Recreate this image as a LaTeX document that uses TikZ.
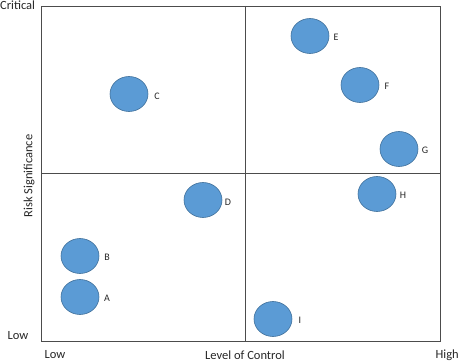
\documentclass[tikz,border=0pt]{standalone}
\usepackage{fontspec}
\setmainfont{Carlito}
\usetikzlibrary{shapes.geometric}
\begin{document}
\begin{tikzpicture}[x=1pt,y=-1pt,
  dot/.style={ellipse,fill={rgb,255:red,91;green,155;blue,213},draw={rgb,255:red,65;green,113;blue,156},line width=0.6pt,minimum width=38pt,minimum height=35pt,inner sep=0pt},
  lab/.style={font=\fontsize{10}{11}\selectfont,text=black!85},
  axis/.style={font=\fontsize{12.5}{14}\selectfont,text=black!85,inner sep=0pt},
  frame/.style={draw=black!70,line width=0.9pt}]
\useasboundingbox (0,0) rectangle (459,361);
\coordinate (tl) at (41,6);
\coordinate (br) at (440,341);
\coordinate (mt) at (245,6);
\coordinate (mb) at (245,341);
\coordinate (ml) at (41,173);
\coordinate (mr) at (440,173);
\draw[frame] (tl) rectangle (br);
\draw[frame] (mt) -- (mb);
\draw[frame] (ml) -- (mr);
\node[axis,anchor=west] (crit) at (0,5) {Critical};
\node[axis] (lowy) at (18,336) {Low};
\node[axis] (lowx) at (55,355) {Low};
\node[axis] (loc) at (245,355) {Level of Control};
\node[axis,anchor=east] (high) at (459,355) {High};
\node[axis,rotate=90] (rs) at (29,176) {Risk Significance};
\node[dot] (A) at (80,297) {};
\node[lab] (la) at (107,298) {A};
\node[dot] (B) at (80,256) {};
\node[lab] (lb) at (107,257) {B};
\node[dot] (C) at (129,94) {};
\node[lab] (lc) at (157,96) {C};
\node[dot] (D) at (203,200) {};
\node[lab] (ld) at (228,202) {D};
\node[dot] (E) at (310,36) {};
\node[lab] (le) at (336,37) {E};
\node[dot] (F) at (360,85) {};
\node[lab] (lf) at (387,86) {F};
\node[dot] (G) at (399,149) {};
\node[lab] (lg) at (425,150) {G};
\node[dot] (H) at (377,194) {};
\node[lab] (lh) at (403,195) {H};
\node[dot] (I) at (273,319) {};
\node[lab] (li) at (300,320) {I};
\end{tikzpicture}
\end{document}
